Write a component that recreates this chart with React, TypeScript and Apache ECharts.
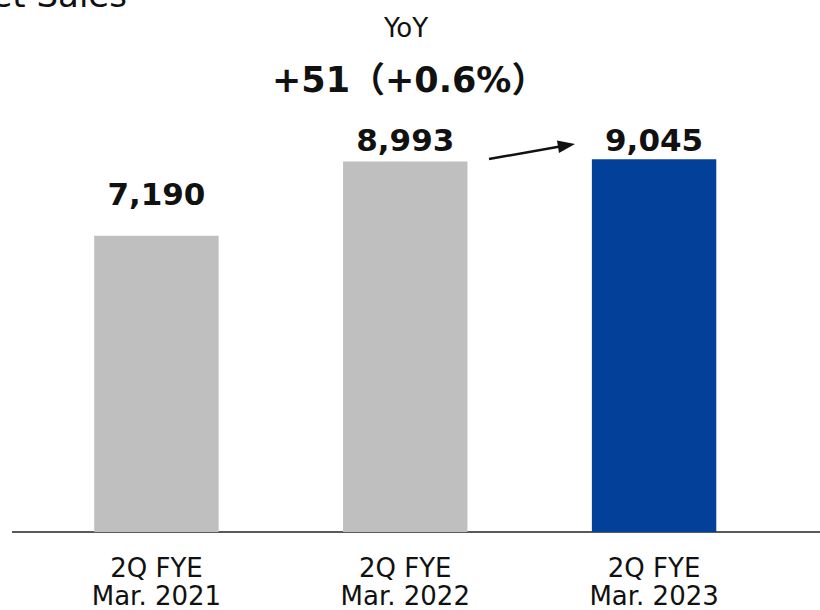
import React, { useEffect, useRef } from "react";
import * as echarts from "echarts";

const categories = ["2Q FYE\nMar. 2021", "2Q FYE\nMar. 2022", "2Q FYE\nMar. 2023"];
const salesValues = [7190, 8993, 9045];
const barColors = ["#BFBFBF", "#BFBFBF", "#034099"];
const labelGaps = [26, 6, 4];
const titleText = "Net Sales";
const yoyLabel = "YoY";
const yoyValue = "+51（+0.6%）";

export default function App() {
  const ref = useRef<HTMLDivElement>(null);
  useEffect(() => {
    if (!ref.current) return;
    const chart = echarts.init(ref.current, null, { renderer: "svg" });
    const font = "'DejaVu Sans', Verdana, sans-serif";
    chart.setOption({
      animation: false,
      backgroundColor: "#ffffff",
      grid: {
        left: 32,
        right: 41.5,
        top: 120,
        bottom: 78,
        containLabel: false,
        outerBoundsMode: "none",
      },
      xAxis: {
        type: "category",
        data: categories,
        axisLine: { show: false },
        axisTick: { show: false },
        axisLabel: {
          color: "#111111",
          fontFamily: font,
          fontSize: 26,
          lineHeight: 28,
          margin: 22,
        },
      },
      yAxis: {
        type: "value",
        min: 0,
        max: 10000,
        show: false,
        splitLine: { show: false },
      },
      series: [
        {
          type: "bar",
          barWidth: "50%",
          data: salesValues.map((v, i) => ({
            value: v,
            itemStyle: { color: barColors[i] },
            label: {
              show: true,
              position: "top",
              distance: labelGaps[i],
              formatter: (p: any) => Number(p.value).toLocaleString("en-US"),
              color: "#111111",
              fontFamily: font,
              fontWeight: "bold",
              fontSize: 31,
            },
          })),
        },
      ],
      graphic: [
        {
          type: "line",
          shape: { x1: 12, y1: 532, x2: 820, y2: 532 },
          style: { stroke: "#222222", lineWidth: 1.5 },
        },
        {
          type: "text",
          x: 127,
          y: 12,
          style: {
            text: titleText,
            align: "right",
            verticalAlign: "bottom",
            fontFamily: font,
            fontSize: 34,
            fill: "#111111",
          },
        },
        {
          type: "text",
          x: 406,
          y: 28,
          style: {
            text: yoyLabel,
            align: "center",
            verticalAlign: "middle",
            fontFamily: font,
            fontSize: 26,
            fill: "#111111",
          },
        },
        {
          type: "text",
          x: 272,
          y: 80,
          style: {
            text: yoyValue,
            align: "left",
            verticalAlign: "middle",
            fontFamily: "'DejaVu Sans', 'Noto Sans CJK JP', sans-serif",
            fontWeight: "bold",
            fontSize: 35,
            fill: "#111111",
          },
        },
        {
          type: "line",
          shape: { x1: 489, y1: 159, x2: 560, y2: 146.5 },
          style: { stroke: "#111111", lineWidth: 2.5 },
        },
        {
          type: "polygon",
          shape: { points: [[575, 144], [559, 153], [557, 140.5]] },
          style: { fill: "#111111" },
        },
      ],
    });
    return () => chart.dispose();
  }, []);
  return (
    <div
      ref={ref}
      style={{ position: "fixed", left: 0, top: 0, width: 820, height: 610 }}
    />
  );
}
